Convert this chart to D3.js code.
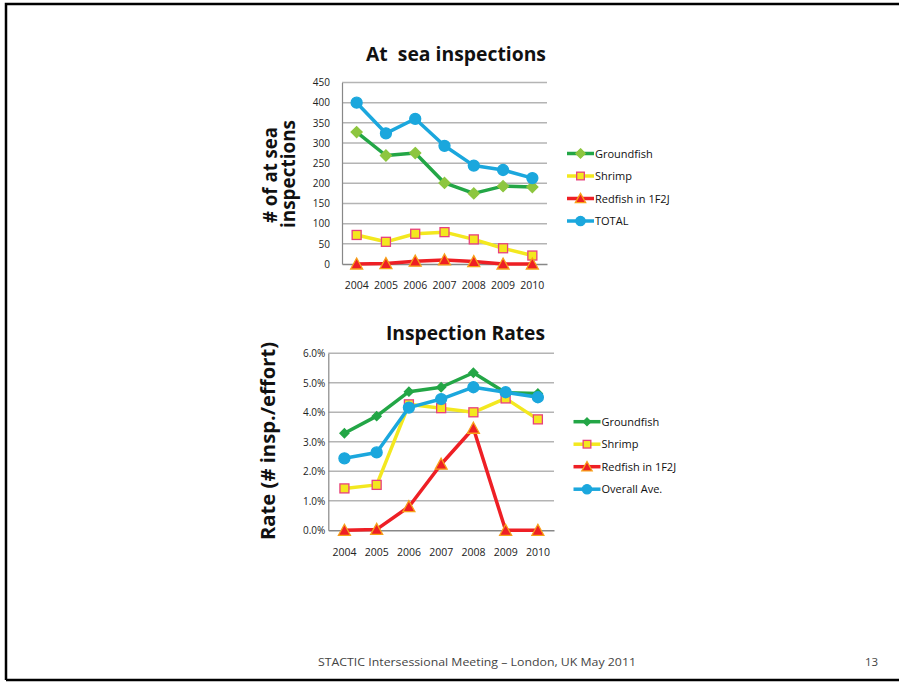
<!DOCTYPE html>
<html><head><meta charset="utf-8">
<script src="https://cdn.jsdelivr.net/npm/d3@7"></script>
<style>body{margin:0;background:#fff}svg{display:block}</style>
</head><body>
<svg id="c" width="899" height="683"></svg>
<script>
const years = ["2004","2005","2006","2007","2008","2009","2010"];
// Chart 1: At sea inspections (counts)
const seaGroundfish = [327, 269, 275, 201, 175, 193, 191];
const seaShrimp     = [72, 55, 75, 79, 61, 39, 21];
const seaRedfish    = [0, 1, 7, 10, 6, 0, 0];
const seaTotal      = [400, 324, 360, 293, 244, 233, 213];
const seaTicks = [0,50,100,150,200,250,300,350,400,450];
// Chart 2: Inspection rates (fraction)
const rateGroundfish = [0.0329, 0.0387, 0.0470, 0.0485, 0.0534, 0.0466, 0.0464];
const rateShrimp     = [0.0142, 0.0154, 0.0427, 0.0414, 0.0400, 0.0447, 0.0376];
const rateRedfish    = [0.0000, 0.0003, 0.0080, 0.0224, 0.0346, 0.0000, 0.0000];
const rateOverall    = [0.0244, 0.0264, 0.0416, 0.0445, 0.0485, 0.0468, 0.0451];
const rateTicks = [0,0.01,0.02,0.03,0.04,0.05,0.06];

const legend1 = ["Groundfish","Shrimp","Redfish in 1F2J","TOTAL"];
const legend2 = ["Groundfish","Shrimp","Redfish in 1F2J","Overall Ave."];

const FONT = "'Open Sans', 'DejaVu Sans', sans-serif";
const svg = d3.select("#c");

// slide frame
svg.append("path").attr("d","M6,680 L6,4 L899,4").attr("fill","none").attr("stroke","#000").attr("stroke-width",2.5);
svg.append("line").attr("x1",6).attr("x2",899).attr("y1",680).attr("y2",680).attr("stroke","#000").attr("stroke-width",2.5);

const styles = {
  ground1: {line:"#23a646", shape:"diamond", fill:"#8dc63f", stroke:"#8dc63f", size:5.5},
  ground2: {line:"#23a646", shape:"diamond", fill:"#23a646", stroke:"#23a646", size:4.5},
  shrimp:  {line:"#f3e81f", shape:"square", fill:"#f3e81f", stroke:"#e8407d", size:4.5},
  red:     {line:"#ee1f25", shape:"triangle", fill:"#ee1f25", stroke:"#f7a11a", size:5.5},
  blue:    {line:"#1ba7dd", shape:"circle", fill:"#1ba7dd", stroke:"#1ba7dd", size:5.5}
};

function marker(g, x, y, st){
  const s = st.size;
  let el;
  if (st.shape==="circle") el = g.append("circle").attr("cx",x).attr("cy",y).attr("r",s);
  else if (st.shape==="square") el = g.append("rect").attr("x",x-s).attr("y",y-s).attr("width",2*s).attr("height",2*s);
  else if (st.shape==="diamond") el = g.append("path").attr("d",`M${x},${y-s}L${x+s},${y}L${x},${y+s}L${x-s},${y}Z`);
  else el = g.append("path").attr("d",`M${x},${y-s-0.5}L${x+s+0.5},${y+s-0.5}L${x-s-0.5},${y+s-0.5}Z`);
  el.attr("fill",st.fill).attr("stroke",st.stroke).attr("stroke-width",1.3);
}

function chart(cfg){
  const x = d3.scaleBand().domain(years).range([cfg.left,cfg.right]).padding(0);
  const y = d3.scaleLinear().domain(cfg.domain).range([cfg.bottom,cfg.top]);
  const cx = d => x(d)+x.bandwidth()/2;
  const g = svg.append("g");
  // gridlines
  g.selectAll(".grid").data(cfg.ticks.slice(1)).join("line")
    .attr("x1",cfg.left).attr("x2",cfg.right).attr("y1",d=>y(d)).attr("y2",d=>y(d))
    .attr("stroke","#b4b4b4").attr("stroke-width",1.5);
  // y axis
  const ya = g.append("g").attr("transform",`translate(${cfg.left},0)`)
    .call(d3.axisLeft(y).tickValues(cfg.ticks).tickSize(0).tickPadding(cfg.tickPad).tickFormat(cfg.fmt));
  ya.select(".domain").attr("stroke","#888").attr("stroke-width",1.2);
  ya.selectAll("text").attr("font-family",FONT).attr("font-size",10).attr("fill","#222");
  // x axis
  const xa = g.append("g").attr("transform",`translate(0,${cfg.bottom})`)
    .call(d3.axisBottom(x).tickSize(0).tickPadding(cfg.xPad));
  xa.select(".domain").attr("stroke","#888").attr("stroke-width",1.5);
  xa.selectAll("text").attr("font-family",FONT).attr("font-size",10.5).attr("fill","#222");
  // series
  const line = d3.line().x((d,i)=>cx(years[i])).y(d=>y(d));
  cfg.series.forEach(s=>{
    g.append("path").datum(s.values).attr("d",line).attr("fill","none")
      .attr("stroke",s.style.line).attr("stroke-width",3.5).attr("stroke-linejoin","round");
    s.values.forEach((v,i)=>marker(g,cx(years[i]),y(v),s.style));
  });
  // title
  g.append("text").attr("x",cfg.titleX).attr("y",cfg.titleY).attr("text-anchor","middle")
    .attr("font-family",FONT).attr("font-weight","bold").attr("font-size",19)
    .attr("textLength",cfg.titleLen).attr("lengthAdjust","spacingAndGlyphs").attr("fill","#111")
    .style("white-space","pre").text(cfg.title);
  // y title
  cfg.yTitle.forEach(t=>{
    g.append("text").attr("transform",`translate(${t.x},${t.cy}) rotate(-90)`).attr("text-anchor","middle")
      .attr("font-family",FONT).attr("font-weight","bold").attr("font-size",20)
      .attr("textLength",t.len).attr("lengthAdjust","spacingAndGlyphs").attr("fill","#111").text(t.text);
  });
  // legend
  cfg.series.forEach((s,i)=>{
    const ly = cfg.legY + i*cfg.legStep;
    g.append("line").attr("x1",cfg.legX).attr("x2",cfg.legX+27).attr("y1",ly).attr("y2",ly)
      .attr("stroke",s.style.line).attr("stroke-width",3.5);
    marker(g,cfg.legX+13.5,ly,Object.assign({},s.style,{size:s.style.size*0.85}));
    g.append("text").attr("x",cfg.legX+28).attr("y",ly+4).attr("font-family",FONT)
      .attr("font-size",11).attr("fill","#111").text(cfg.legend[i]);
  });
}

chart({
  left:342, right:547, top:82.5, bottom:264, domain:[0,450], ticks:seaTicks,
  fmt:d3.format("d"), tickPad:12, xPad:18,
  series:[
    {values:seaGroundfish, style:styles.ground1},
    {values:seaShrimp, style:styles.shrimp},
    {values:seaRedfish, style:styles.red},
    {values:seaTotal, style:styles.blue}
  ],
  title:"At  sea inspections", titleX:456, titleY:61, titleLen:180,
  yTitle:[{text:"# of at sea", x:277, cy:175, len:96},{text:"inspections", x:295, cy:174, len:108}],
  legend:legend1, legX:567, legY:153.5, legStep:22.5
});

chart({
  left:328.3, right:554, top:353.3, bottom:530.3, domain:[0,0.06], ticks:rateTicks,
  fmt:d3.format(".1%"), tickPad:3, xPad:18,
  series:[
    {values:rateGroundfish, style:styles.ground2},
    {values:rateShrimp, style:styles.shrimp},
    {values:rateRedfish, style:styles.red},
    {values:rateOverall, style:styles.blue}
  ],
  title:"Inspection Rates", titleX:465.5, titleY:340, titleLen:159,
  yTitle:[{text:"Rate (# insp./effort)", x:275, cy:441, len:198}],
  legend:legend2, legX:573.5, legY:421.7, legStep:22.5
});

// footer
svg.append("text").attr("x",318).attr("y",666).attr("font-family",FONT).attr("font-size",11.5)
  .attr("fill","#444").attr("textLength",318).attr("lengthAdjust","spacingAndGlyphs")
  .text("STACTIC Intersessional Meeting – London, UK May 2011");
svg.append("text").attr("x",865).attr("y",666).attr("font-family",FONT).attr("font-size",11.5)
  .attr("fill","#444").text("13");
</script>
</body></html>
